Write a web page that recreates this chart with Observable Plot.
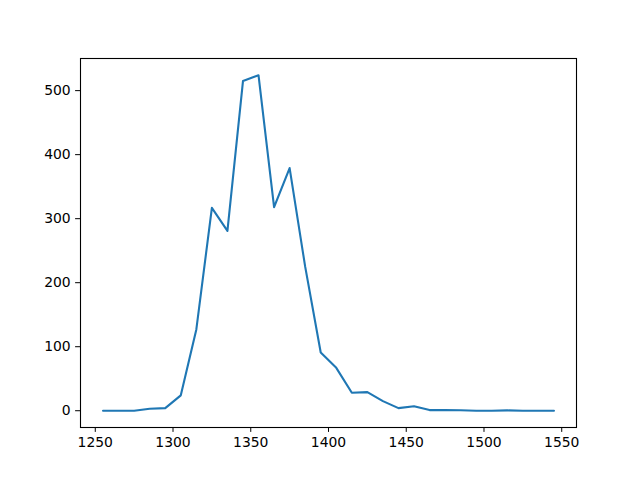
<!DOCTYPE html>
<html>
<head>
<meta charset="utf-8">
<script src="https://cdn.jsdelivr.net/npm/d3@7"></script>
<script src="https://cdn.jsdelivr.net/npm/@observablehq/plot@0.6"></script>
<style>
  html, body { margin: 0; padding: 0; background: #fff; }
</style>
</head>
<body>
<div id="chart"></div>
<script>
const xs = [1255,1265,1275,1285,1295,1305,1315,1325,1335,1345,1355,1365,1375,1385,1395,1405,1415,1425,1435,1445,1455,1465,1475,1485,1495,1505,1515,1525,1535,1545];
const ys = [0,0,0,3,4,24,127,317,281,515,524,318,379,225,91,67,28,29,15,4,7,1,1,0.7,0,0,0.5,0,0,0];
const xTicks = [1250,1300,1350,1400,1450,1500,1550];
const yTicks = [0,100,200,300,400,500];

const data = xs.map((x, i) => ({x, y: ys[i]}));

const chart = Plot.plot({
  width: 640,
  height: 480,
  marginLeft: 80,
  marginRight: 64,
  marginTop: 58,
  marginBottom: 53,
  style: {fontFamily: "DejaVu Sans", fontSize: "13.9px", background: "#fff", color: "#000"},
  x: {domain: [1240.5, 1559.5]},
  y: {domain: [-26.2, 550.2]},
  marks: [
    Plot.axisX({ticks: xTicks, tickSize: 4.9, tickPadding: 4.9, label: null, tickFormat: d => String(d), stroke: "#000", strokeOpacity: 1}),
    Plot.axisY({ticks: yTicks, tickSize: 4.9, tickPadding: 4.9, label: null, tickFormat: d => String(d), stroke: "#000", strokeOpacity: 1}),
    Plot.line(data, {x: "x", y: "y", stroke: "#1f77b4", strokeWidth: 2.1}),
    Plot.frame({stroke: "#000", strokeWidth: 1.1})
  ]
});
document.getElementById("chart").appendChild(chart);
</script>
</body>
</html>
